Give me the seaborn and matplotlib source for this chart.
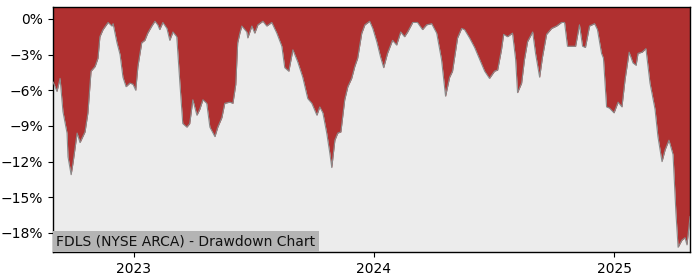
import numpy as np
import pandas as pd
import matplotlib
matplotlib.use("Agg")
import matplotlib.pyplot as plt
import matplotlib.dates as mdates
from matplotlib.ticker import FuncFormatter
import seaborn as sns

# decimal-year positions and drawdown values (%)
years = [2022.663, 2022.679, 2022.692, 2022.704, 2022.721, 2022.725, 2022.738, 2022.746,
         2022.763, 2022.775, 2022.796, 2022.808, 2022.821, 2022.838, 2022.850, 2022.858,
         2022.871, 2022.892, 2022.908, 2022.913, 2022.929, 2022.942, 2022.954, 2022.967,
         2022.983, 2022.996, 2023.008, 2023.017, 2023.033, 2023.046, 2023.058, 2023.075,
         2023.088, 2023.100, 2023.108, 2023.121, 2023.138, 2023.150, 2023.163, 2023.179,
         2023.192, 2023.204, 2023.221, 2023.233, 2023.246, 2023.263, 2023.275, 2023.288,
         2023.304, 2023.317, 2023.338, 2023.350, 2023.367, 2023.379, 2023.400, 2023.413,
         2023.425, 2023.433, 2023.442, 2023.450, 2023.471, 2023.475, 2023.492, 2023.504,
         2023.517, 2023.538, 2023.554, 2023.575, 2023.596, 2023.617, 2023.629, 2023.646,
         2023.663, 2023.683, 2023.704, 2023.725, 2023.742, 2023.763, 2023.775, 2023.788,
         2023.804, 2023.817, 2023.825, 2023.838, 2023.850, 2023.863, 2023.879, 2023.892,
         2023.908, 2023.921, 2023.933, 2023.950, 2023.963, 2023.983, 2023.996, 2024.013,
         2024.029, 2024.042, 2024.058, 2024.079, 2024.096, 2024.113, 2024.129, 2024.142,
         2024.163, 2024.183, 2024.204, 2024.221, 2024.242, 2024.263, 2024.283, 2024.300,
         2024.317, 2024.329, 2024.350, 2024.367, 2024.379, 2024.400, 2024.421, 2024.442,
         2024.463, 2024.483, 2024.504, 2024.517, 2024.533, 2024.542, 2024.558, 2024.579,
         2024.592, 2024.600, 2024.617, 2024.629, 2024.642, 2024.663, 2024.675, 2024.692,
         2024.704, 2024.721, 2024.742, 2024.763, 2024.783, 2024.796, 2024.808, 2024.842,
         2024.858, 2024.871, 2024.883, 2024.900, 2024.921, 2024.933, 2024.950, 2024.958,
         2024.971, 2024.983, 2025.000, 2025.017, 2025.033, 2025.046, 2025.063, 2025.079,
         2025.092, 2025.100, 2025.117, 2025.133, 2025.150, 2025.171, 2025.183, 2025.200,
         2025.213, 2025.229, 2025.246, 2025.258, 2025.267, 2025.283, 2025.296, 2025.304,
         2025.317]
drawdown = [-5.3, -6.1, -5.0, -7.8, -9.6, -11.6, -13.1, -12.1,
            -9.6, -10.4, -9.5, -7.9, -4.4, -4.0, -3.3, -1.5,
            -0.9, -0.3, -0.6, -0.4, -2.0, -3.0, -4.9, -5.7,
            -5.4, -5.5, -6.0, -4.0, -2.0, -1.8, -1.2, -0.6,
            -0.2, -0.5, -0.9, -0.3, -0.8, -1.8, -1.1, -1.5,
            -5.4, -8.8, -9.1, -8.8, -6.8, -8.1, -7.6, -6.8,
            -7.1, -9.1, -9.9, -9.1, -8.3, -7.1, -7.0, -7.1,
            -5.5, -2.0, -1.2, -0.6, -1.1, -1.6, -0.6, -1.2,
            -0.5, -0.2, -0.6, -0.3, -1.2, -2.3, -4.1, -4.4,
            -2.6, -3.6, -4.9, -6.7, -7.1, -8.1, -7.4, -7.9,
            -9.6, -11.3, -12.5, -10.2, -9.6, -9.5, -6.8, -5.7,
            -5.0, -4.0, -3.3, -1.2, -0.5, -0.2, -0.8, -1.9,
            -3.2, -4.1, -2.9, -1.8, -2.2, -1.1, -1.5, -1.1,
            -0.3, -0.3, -0.9, -0.5, -0.4, -1.2, -3.4, -6.5,
            -4.9, -4.4, -1.6, -0.8, -0.9, -1.6, -2.4, -3.4,
            -4.4, -5.0, -4.4, -4.3, -2.6, -1.3, -1.5, -1.2,
            -3.4, -6.2, -5.4, -3.4, -1.9, -1.1, -2.9, -4.9,
            -3.2, -1.3, -0.8, -0.6, -0.3, -0.3, -2.3, -2.3,
            -0.5, -2.3, -2.4, -0.6, -0.4, -0.9, -2.9, -3.3,
            -7.4, -7.5, -7.9, -7.0, -7.4, -5.1, -2.8, -3.7,
            -3.9, -2.9, -2.8, -2.5, -5.4, -7.6, -9.9, -12.0,
            -11.0, -10.2, -11.4, -16.3, -19.2, -18.6, -18.4, -19.0,
            -16.6]
y_ticks = [0, -3, -6, -9, -12, -15, -18]
x_tick_years = [2023, 2024, 2025]
title_text = "FDLS (NYSE ARCA) - Drawdown Chart"


def to_date(y):
    yr = int(np.floor(y))
    start = pd.Timestamp(year=yr, month=1, day=1)
    return start + pd.Timedelta(days=(y - yr) * 365.25)


df = pd.DataFrame({"date": [to_date(v) for v in years], "dd": drawdown})

sns.set_theme(style="ticks")
plt.rcParams["font.family"] = ["DejaVu Sans"]

fig = plt.figure(figsize=(7, 2.8), dpi=100)
ax = fig.add_axes([53 / 700, 28 / 280, 637 / 700, 245 / 280])
ax.set_facecolor("#ececec")

top = 1.0
ax.fill_between(df["date"], df["dd"], top, color="#b03030", linewidth=0, zorder=2)
sns.lineplot(data=df, x="date", y="dd", ax=ax, color="#8a8a8a", linewidth=0.8, zorder=3)

ax.set_ylim(-19.6, top)
ax.set_xlim(to_date(2022.6625), to_date(2025.3167))
ax.set_yticks(y_ticks)
ax.yaxis.set_major_formatter(FuncFormatter(lambda v, p: f"{v:.0f}%".replace("-", "\u2212")))
ax.set_xticks([pd.Timestamp(year=y, month=1, day=1) for y in x_tick_years])
ax.xaxis.set_major_formatter(mdates.DateFormatter("%Y"))
ax.set_xlabel("")
ax.set_ylabel("")
ax.tick_params(axis="both", labelsize=10, colors="black", length=3.5, width=0.8, direction="out")
for s in ax.spines.values():
    s.set_visible(True)
    s.set_color("black")
    s.set_linewidth(1.0)
ax.grid(False)

ax.text(0.005, 0.015, title_text, transform=ax.transAxes, fontsize=10, color="#111111",
        ha="left", va="bottom", zorder=5,
        bbox=dict(facecolor="#b4b4b4", edgecolor="none", pad=2.5))

fig.savefig("out.png", dpi=100)
